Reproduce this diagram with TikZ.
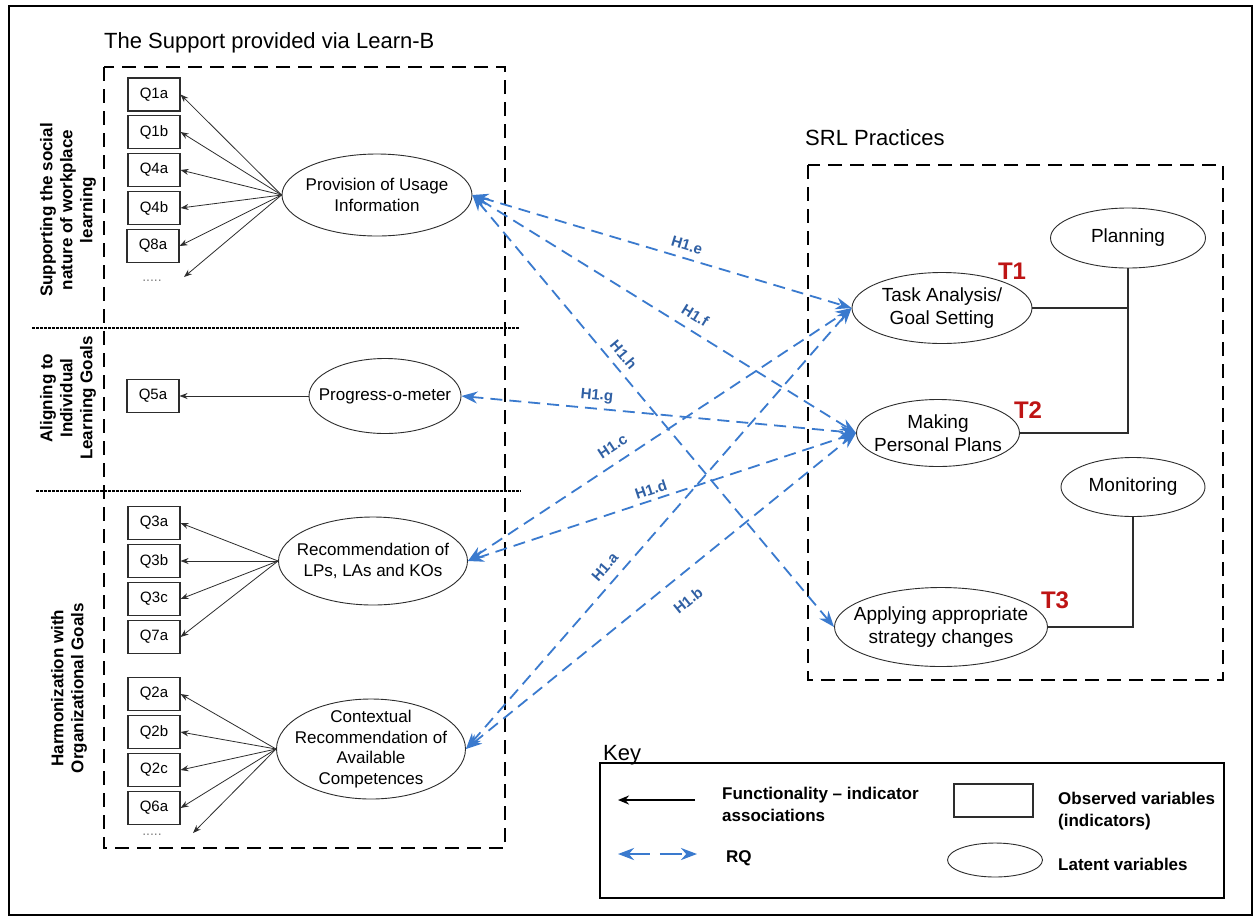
\documentclass[tikz,border=0pt]{standalone}
\usepackage{fontspec}
\setmainfont{Liberation Sans}
\usetikzlibrary{arrows.meta,shapes.geometric}
\definecolor{rqblue}{RGB}{58,122,206}
\definecolor{rqlab}{RGB}{48,96,164}
\definecolor{tred}{RGB}{190,20,20}
\definecolor{edgec}{RGB}{45,45,45}
\begin{document}
\begin{tikzpicture}[x=1pt,y=-1pt,
  lat/.style={ellipse, draw=edgec, line width=0.9pt, inner sep=0pt},
  ltxt/.style={align=center, inner sep=0pt, font=\fontsize{17}{20.5}\selectfont},
  rtxt/.style={align=center, inner sep=0pt, font=\fontsize{19}{23}\selectfont},
  obs/.style={rectangle, draw=edgec, line width=1.1pt, minimum width=52pt, minimum height=33pt, inner sep=0pt, font=\fontsize{15}{18}\selectfont},
  fan/.style={-{Stealth[length=8pt,width=6pt]}, line width=0.8pt, draw=edgec},
  rq/.style={{Stealth[length=16pt,width=12pt]}-{Stealth[length=16pt,width=12pt]}, draw=rqblue, line width=1.8pt, dash pattern=on 12pt off 7pt},
  hlab/.style={font=\bfseries\fontsize{15}{18}\selectfont, text=rqlab, inner sep=1pt, sloped},
  grp/.style={draw=black, line width=2pt, dash pattern=on 14pt off 8pt},
  sepline/.style={draw=black, line width=1.5pt, dash pattern=on 2.5pt off 1.5pt},
  side/.style={rotate=90, align=center, inner sep=0pt, font=\bfseries\fontsize{17}{20}\selectfont},
  tlab/.style={text=tred, font=\bfseries\fontsize{24}{28}\selectfont, inner sep=0pt},
  conn/.style={draw=edgec, line width=1.1pt},
  keytxt/.style={inner sep=0pt, align=left, font=\bfseries\fontsize{17}{22}\selectfont},
]
\useasboundingbox[fill=white] (0,0) rectangle (1256,922);
\draw[line width=2.5pt] (9,6) rectangle (1252,915);

% titles
\node[anchor=base west, inner sep=0pt, font=\fontsize{22}{26}\selectfont] (ttl) at (104,48) {The Support provided via Learn-B};
\node[anchor=base west, inner sep=0pt, font=\fontsize{22}{26}\selectfont] (srlt) at (805,145) {SRL Practices};

% group boxes
\draw[grp] (104,67) rectangle (505,848);
\draw[grp] (808,165) rectangle (1223,680);
\draw[sepline] (32,328) -- (520,328);
\draw[sepline] (36,491) -- (521,491);

% side labels
\node[side] (s1) at (68,210) {Supporting the social\\nature of workplace\\learning};
\node[side] (s2) at (68,398) {Aligning to\\Individual\\Learning Goals};
\node[side] (s3) at (69,688) {Harmonization with\\Organizational Goals};

% latent variables (left)
\node[lat, minimum width=190pt, minimum height=82pt] (prov) at (377,195) {};
\node[ltxt] at (prov) {Provision of Usage\\Information};
\node[lat, minimum width=152pt, minimum height=75pt] (prog) at (385,396) {};
\node[ltxt] at (prog) {Progress-o-meter};
\node[lat, minimum width=189pt, minimum height=88pt] (reco) at (373,561) {};
\node[ltxt] at (reco) {Recommendation of\\LPs, LAs and KOs};
\node[lat, minimum width=189pt, minimum height=100pt] (ctx) at (371,749) {};
\node[ltxt] at (ctx) {Contextual\\Recommendation of\\Available\\Competences};

% observed variables
\node[obs] (q1a) at (154,94.5) {Q1a};
\node[obs] (q1b) at (154,132) {Q1b};
\node[obs] (q4a) at (154,170) {Q4a};
\node[obs] (q4b) at (154,208) {Q4b};
\node[obs] (q8a) at (153,246) {Q8a};
\node[inner sep=0pt, text=gray, font=\fontsize{14}{16}\selectfont] (dots1) at (152,281) {.....};
\coordinate (d1) at (184,277);
\node[obs] (q5a) at (153,396) {Q5a};
\node[obs] (q3a) at (154,523) {Q3a};
\node[obs] (q3b) at (154,561) {Q3b};
\node[obs] (q3c) at (154,599) {Q3c};
\node[obs] (q7a) at (154,637) {Q7a};
\node[obs] (q2a) at (154,694) {Q2a};
\node[obs] (q2b) at (154,732) {Q2b};
\node[obs] (q2c) at (154,770) {Q2c};
\node[obs] (q6a) at (154,808) {Q6a};
\node[inner sep=0pt, text=gray, font=\fontsize{14}{16}\selectfont] (dots2) at (152,835) {.....};
\coordinate (d2) at (193,833);

% fans
\foreach \q in {q1a,q1b,q4a,q4b,q8a,d1} \draw[fan] (prov.west) -- (\q.east);
\draw[fan] (prog.west) -- (q5a.east);
\foreach \q in {q3a,q3b,q3c,q7a} \draw[fan] (reco.west) -- (\q.east);
\foreach \q in {q2a,q2b,q2c,q6a,d2} \draw[fan] (ctx.west) -- (\q.east);

% latent variables (right)
\node[lat, minimum width=180pt, minimum height=71pt] (task) at (942,308) {};
\node[rtxt] at (task) {Task Analysis/\\Goal Setting};
\node[lat, minimum width=155pt, minimum height=60pt] (plan) at (1128,238) {};
\node[rtxt] at (plan) {Planning};
\node[lat, minimum width=163pt, minimum height=67pt] (make) at (938,433) {};
\node[rtxt] at (make) {Making\\Personal Plans};
\node[lat, minimum width=144pt, minimum height=59pt] (mon) at (1133,487) {};
\node[rtxt] at (mon) {Monitoring};
\node[lat, minimum width=213pt, minimum height=79pt] (app) at (941,627) {};
\node[rtxt] at (app) {Applying appropriate\\strategy changes};

\node[tlab] (t1) at (1012,271) {T1};
\node[tlab] (t2) at (1028,410) {T2};
\node[tlab] (t3) at (1055,600) {T3};

\draw[conn] (task.east) -- (task.east -| plan.south);
\draw[conn] (plan.south) |- (make.east);
\draw[conn] (mon.south) |- (app.east);

% research hypotheses
\draw[rq] (prov.east) -- node[hlab, pos=0.556, above=6pt] {H1.e} (task.west);
\draw[rq] (prov.east) -- node[hlab, pos=0.56, above=8pt] {H1.f} (make.west);
\draw[rq] (prov.east) -- node[hlab, pos=0.39, above=6pt] {H1.h} (app.west);
\draw[rq] (prog.east) -- node[hlab, pos=0.34, above=4pt] {H1.g} (make.west);
\draw[rq] (reco.east) -- node[hlab, pos=0.40, above=9pt] {H1.c} (task.west);
\draw[rq] (reco.east) -- node[hlab, pos=0.48, above=3pt] {H1.d} (make.west);
\draw[rq] (ctx.east) -- node[hlab, pos=0.39, above=8pt] {H1.a} (task.west);
\draw[rq] (ctx.east) -- node[hlab, pos=0.53, below=17pt] {H1.b} (make.west);

% key
\node[anchor=base west, inner sep=0pt, font=\fontsize{22}{26}\selectfont] (keyt) at (603,760) {Key};
\draw[line width=2.5pt] (600,763) rectangle (1224,898);
\coordinate (la1) at (695,800);
\coordinate (la2) at (618,800);
\draw[-{Stealth[length=11pt,width=9pt]}, line width=2pt] (la1) -- (la2);
\node[keytxt, anchor=west] (kfun) at (722,804) {Functionality – indicator\\associations};
\coordinate (lr1) at (618,854);
\coordinate (lr2) at (697,854);
\draw[rq, line width=2.5pt, dash pattern=on 22pt off 10pt] (lr1) -- (lr2);
\node[keytxt, anchor=west] (krq) at (726,858) {RQ};
\node[obs, minimum width=79pt, minimum height=33pt] (lrect) at (993.5,800.5) {};
\node[lat, minimum width=95pt, minimum height=34pt] (lell) at (995,860) {};
\node[keytxt, anchor=west] (kobs) at (1058,811) {Observed variables\\(indicators)};
\node[keytxt, anchor=west] (klat) at (1058,864) {Latent variables};
\end{tikzpicture}
\end{document}
